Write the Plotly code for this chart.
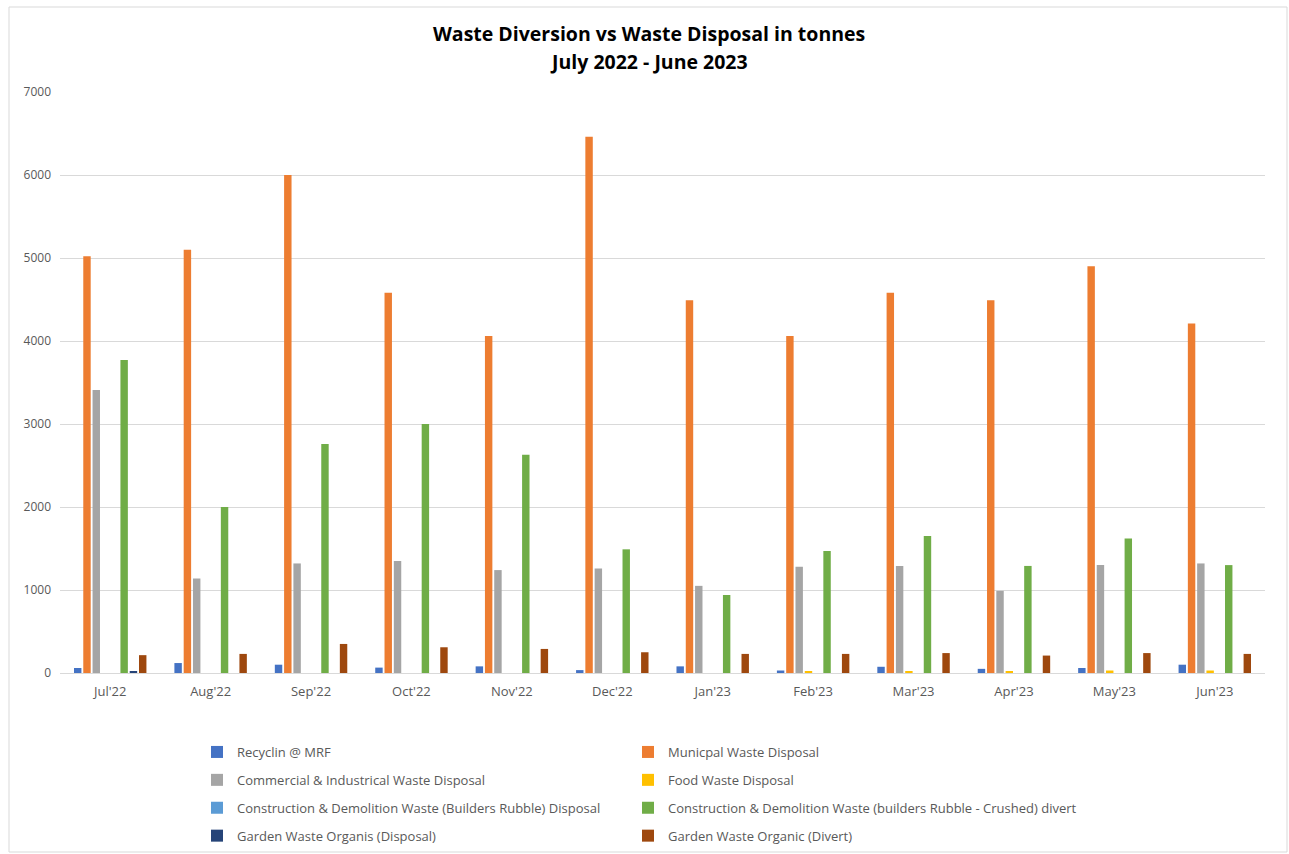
import plotly.graph_objects as go

months = ["Jul'22", "Aug'22", "Sep'22", "Oct'22", "Nov'22", "Dec'22",
          "Jan'23", "Feb'23", "Mar'23", "Apr'23", "May'23", "Jun'23"]

recycling_mrf = [60, 120, 100, 65, 80, 35, 80, 30, 75, 50, 60, 100]
municipal = [5020, 5100, 6000, 4580, 4060, 6460, 4490, 4060, 4580, 4490, 4900, 4210]
commercial_industrial = [3410, 1140, 1320, 1350, 1240, 1260, 1050, 1280, 1290, 990, 1300, 1320]
food_waste = [0, 0, 0, 0, 0, 0, 0, 15, 15, 15, 30, 30]
cd_disposal = [0, 0, 0, 0, 0, 0, 0, 0, 0, 0, 0, 0]
cd_divert = [3770, 2000, 2760, 3000, 2630, 1490, 940, 1470, 1650, 1290, 1620, 1300]
garden_disposal = [20, 0, 0, 0, 0, 0, 0, 0, 0, 0, 0, 0]
garden_divert = [215, 230, 350, 310, 290, 250, 230, 230, 240, 210, 240, 230]

title_lines = ["Waste Diversion vs Waste Disposal in tonnes", "July 2022 - June 2023"]

series = [
    ("Recyclin @ MRF", recycling_mrf, "#4472C4", "legend"),
    ("Municpal Waste Disposal", municipal, "#ED7D31", "legend2"),
    ("Commercial & Industrical Waste Disposal", commercial_industrial, "#A5A5A5", "legend"),
    ("Food Waste Disposal", food_waste, "#FFC000", "legend2"),
    ("Construction & Demolition Waste (Builders Rubble) Disposal", cd_disposal, "#5B9BD5", "legend"),
    ("Construction & Demolition Waste (builders Rubble - Crushed) divert", cd_divert, "#70AD47", "legend2"),
    ("Garden Waste Organis (Disposal)", garden_disposal, "#264478", "legend"),
    ("Garden Waste Organic (Divert)", garden_divert, "#9E480E", "legend2"),
]

FONT = "Open Sans"
W, H = 1289, 854
L, R, T, B = 60, 24, 92, 181

fig = go.Figure()
for i, (name, vals, color, leg) in enumerate(series):
    fig.add_trace(go.Bar(
        x=months, y=vals, name=name, marker_color=color,
        marker_line_width=0, legend=leg, legendgroup=f"g{i}",
    ))

pw = W - L - R
ph = H - T - B

def px_x(p):
    return (p - L) / pw

def px_y(p):
    return 1 - (p - T) / ph

annotations = []
for text, ypix in zip(title_lines, [33, 61]):
    annotations.append(dict(
        text=f"<b>{text}</b>", xref="paper", yref="paper",
        x=px_x(649), y=px_y(ypix), xanchor="center", yanchor="middle",
        showarrow=False, font=dict(family=FONT, size=19.5, color="#000000"),
    ))

fig.update_layout(
    width=W, height=H,
    margin=dict(l=L, r=R, t=T, b=B, autoexpand=False),
    paper_bgcolor="white", plot_bgcolor="white",
    barmode="group", bargap=0.26, bargroupgap=0.2,
    font=dict(family=FONT, size=12, color="#595959"),
    annotations=annotations,
    xaxis=dict(showgrid=False, showline=False, ticks="",
               tickfont=dict(size=13, color="#595959"), ticklabelstandoff=9),
    yaxis=dict(range=[0, 7000], dtick=1000, showgrid=True, gridcolor="#D9D9D9",
               gridwidth=1, zeroline=True, zerolinecolor="#D9D9D9", zerolinewidth=1,
               showline=False, ticks="", tickfont=dict(size=12, color="#595959"),
               ticklabelstandoff=8),
    legend=dict(x=px_x(197), y=px_y(737), xanchor="left", yanchor="top",
                orientation="v", tracegroupgap=8, traceorder="grouped",
                font=dict(size=13, color="#595959"), itemwidth=30,
                bgcolor="rgba(0,0,0,0)"),
    legend2=dict(x=px_x(628), y=px_y(737), xanchor="left", yanchor="top",
                 orientation="v", tracegroupgap=8, traceorder="grouped",
                 font=dict(size=13, color="#595959"), itemwidth=30,
                 bgcolor="rgba(0,0,0,0)"),
    shapes=[dict(type="rect", xref="paper", yref="paper",
                 x0=px_x(9), x1=px_x(1287), y0=px_y(852), y1=px_y(7),
                 line=dict(color="#D9D9D9", width=1), fillcolor="rgba(0,0,0,0)",
                 layer="below")],
)

fig.write_html("out.html")
